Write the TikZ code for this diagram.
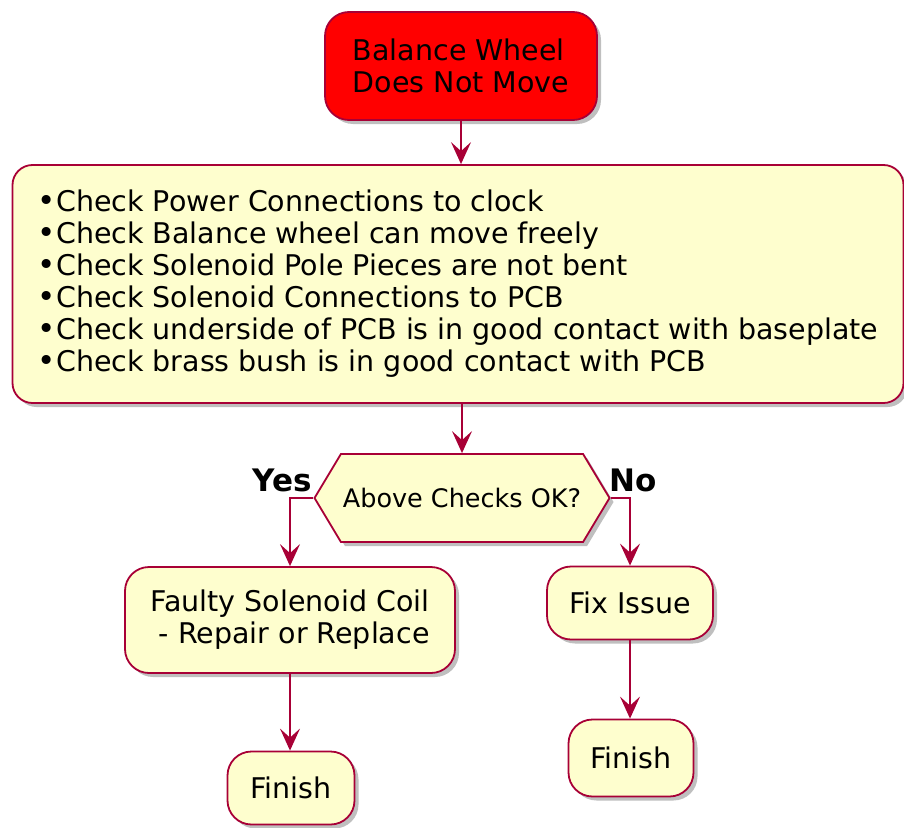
\documentclass[tikz,border=0pt]{standalone}
\usepackage{fontspec}
\setmainfont{DejaVu Sans}
\usetikzlibrary{arrows.meta,shapes.symbols,shadows}
\definecolor{umlfill}{HTML}{FEFECE}
\definecolor{umlline}{HTML}{A80036}
\newcommand{\blt}{\makebox[18.5pt][c]{\fontsize{31}{32}\selectfont•}}

\begin{document}
\begin{tikzpicture}[
    x=1pt, y=-1pt,
    act/.style={draw=umlline, fill=umlfill, line width=1.8pt, rounded corners=24pt, align=left,
        font=\fontsize{28.5}{32}\selectfont, inner sep=0pt,
        drop shadow={shadow xshift=4pt, shadow yshift=-4pt, fill=black, opacity=0.25}},
    dec/.style={draw=umlline, fill=umlfill, line width=1.8pt, signal, signal to=west and east,
        signal pointer angle=118, font=\fontsize{25.5}{29}\selectfont, inner sep=0pt,
        drop shadow={shadow xshift=4pt, shadow yshift=-4pt, fill=black, opacity=0.25}},
    lbl/.style={font=\fontsize{31}{35}\selectfont\bfseries, inner sep=0pt},
    flow/.style={draw=umlline, line width=1.8pt, -{Stealth[length=22pt, width=20pt, inset=9pt]}},
]
\useasboundingbox (0,0) rectangle (904,827);

% Nodes
\node[act, fill=red, minimum width=272, minimum height=108] (start) at (461,66)
    {Balance Wheel\\Does Not Move};
\node[act, rounded corners=20pt, minimum width=891, minimum height=238] (checks) at (458,284)
    {\blt Check Power Connections to clock\\
     \blt Check Balance wheel can move freely\\
     \blt Check Solenoid Pole Pieces are not bent\\
     \blt Check Solenoid Connections to PCB\\
     \blt Check underside of PCB is in good contact with baseplate\\
     \blt Check brass bush is in good contact with PCB};
\node[dec, minimum width=295, minimum height=88] (ok) at (462,498) {Above Checks OK?};
\node[lbl, anchor=base east] (yes) at (312,491) {Yes};
\node[lbl, anchor=base west] (no) at (609,491) {No};
\node[act, minimum width=330, minimum height=106] (coil) at (290,620)
    {Faulty Solenoid Coil\\\hspace*{0.3em}- Repair or Replace};
\node[act, minimum width=166, minimum height=73] (fix) at (630,603) {Fix Issue};
\node[act, minimum width=127, minimum height=73] (finA) at (291,788) {Finish};
\node[act, minimum width=125, minimum height=77] (finB) at (631,758) {Finish};

% Arrows
\draw[flow] (start.south) -- (start.south |- checks.north);
\draw[flow] (ok.north |- checks.south) -- (ok.north);
\draw[flow] (ok.west) -| (coil.north);
\draw[flow] (ok.east) -| (fix.north);
\draw[flow] (coil.south) -- (coil.south |- finA.north);
\draw[flow] (fix.south) -- (fix.south |- finB.north);
\end{tikzpicture}
\end{document}
